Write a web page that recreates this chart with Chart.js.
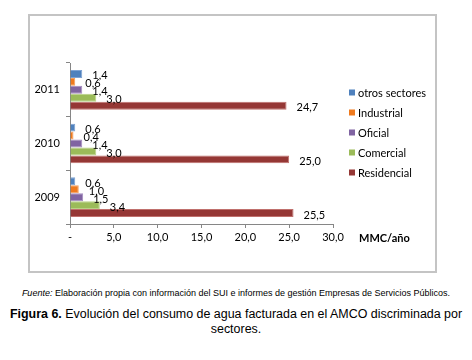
<!DOCTYPE html>
<html>
<head>
<meta charset="utf-8">
<script src="https://cdn.jsdelivr.net/npm/chart.js@4.4.1/dist/chart.umd.min.js"></script>
<style>
  html, body { margin: 0; padding: 0; background: #fff; }
  body { width: 472px; height: 360px; position: relative; overflow: hidden; }
  #frame { position: absolute; left: 28px; top: 14px; width: 405px; height: 255px; border: 2px solid #c4c4c4; }
  #wrap { position: absolute; left: 0; top: 0; width: 472px; height: 272px; }
  .fuente { position: absolute; left: 0; width: 472px; top: 288px; text-align: center;
            font-family: "Liberation Sans", Arial, sans-serif; font-size: 9px; color: #000; }
  .titulo { position: absolute; left: 0; width: 472px; top: 307px; text-align: center;
            font-family: "Liberation Sans", Arial, sans-serif; font-size: 12.45px; line-height: 14.5px; color: #000; }
</style>
</head>
<body>
<div id="frame"></div>
<div id="wrap"><canvas id="chart" width="472" height="272"></canvas></div>
<div class="fuente"><i>Fuente:</i> Elaboración propia con información del SUI e informes de gestión Empresas de Servicios Públicos.</div>
<div class="titulo"><b>Figura 6.</b> Evolución del consumo de agua facturada en el AMCO discriminada por<br>sectores.</div>
<script>
// years from top to bottom as in the figure
const years = ['2011', '2010', '2009'];
const sectors = ['otros sectores', 'Industrial', 'Oficial', 'Comercial', 'Residencial'];
const otros = [1.4, 0.6, 0.6];
const industrial = [0.6, 0.4, 1.0];
const oficial = [1.4, 1.4, 1.5];
const comercial = [3.0, 3.0, 3.4];
const residencial = [24.7, 25.0, 25.5];
const xTicks = [0, 5, 10, 15, 20, 25, 30];

const colors = ['#4F81BD', '#EF7A1E', '#8064A2', '#9BBB59', '#953735'];
const borders = ['#7FA3D3', '#F5A05C', '#A58CC0', '#B9D285', '#C0706D'];
const FONT = 'Lato, "Open Sans", sans-serif';

const fmt = v => v.toFixed(1).replace('.', ',');

// value labels right of each bar
const valueLabels = {
  id: 'valueLabels',
  afterDatasetsDraw(chart) {
    const { ctx } = chart;
    ctx.save();
    ctx.font = '11px ' + FONT;
    ctx.fillStyle = '#000';
    ctx.textAlign = 'left';
    ctx.textBaseline = 'middle';
    chart.data.datasets.forEach((ds, i) => {
      chart.getDatasetMeta(i).data.forEach((bar, j) => {
        ctx.fillText(fmt(ds.data[j]), bar.x + 10, bar.y + 2);
      });
    });
    ctx.restore();
  }
};

// legend on the right + axis unit
const sideLegend = {
  id: 'sideLegend',
  afterDraw(chart) {
    const { ctx } = chart;
    ctx.save();
    ctx.font = '11px ' + FONT;
    ctx.textAlign = 'left';
    ctx.textBaseline = 'middle';
    chart.data.datasets.forEach((ds, i) => {
      const y = 93 + i * 20;
      ctx.fillStyle = ds.backgroundColor;
      ctx.fillRect(349, y - 3.5, 6, 6);
      ctx.fillStyle = '#000';
      ctx.fillText(ds.label, 358, y);
    });
    ctx.font = 'bold 11px ' + FONT;
    ctx.fillText('MMC/año', 359, 238);
    ctx.restore();
  }
};

const seriesValues = [otros, industrial, oficial, comercial, residencial];

new Chart(document.getElementById('chart'), {
  type: 'bar',
  data: {
    labels: years,
    datasets: sectors.map((s, i) => ({
      label: s,
      data: seriesValues[i],
      backgroundColor: colors[i],
      borderColor: borders[i],
      borderWidth: 1,
      categoryPercentage: 0.74,
      barPercentage: 1
    }))
  },
  options: {
    indexAxis: 'y',
    responsive: false,
    animation: false,
    layout: { padding: { left: 0, top: 63, right: 139, bottom: 0 } },
    plugins: { legend: { display: false }, tooltip: { enabled: false } },
    scales: {
      x: {
        min: 0, max: 30,
        afterBuildTicks: scale => { scale.ticks = xTicks.map(v => ({ value: v })); },
        afterFit: scale => { scale.height = 48; },
        border: { color: '#868686', width: 1 },
        grid: { drawOnChartArea: false, color: '#868686', tickLength: 4 },
        ticks: {
          color: '#000', padding: 3,
          font: { family: FONT, size: 11 },
          callback: v => v === 0 ? '-' : fmt(v)
        }
      },
      y: {
        afterFit: scale => { scale.width = 70; },
        border: { color: '#868686', width: 1 },
        grid: { drawOnChartArea: false, color: '#868686', tickLength: 4 },
        ticks: { color: '#000', padding: 6, font: { family: FONT, size: 11 } }
      }
    }
  },
  plugins: [valueLabels, sideLegend]
});
</script>
</body>
</html>
